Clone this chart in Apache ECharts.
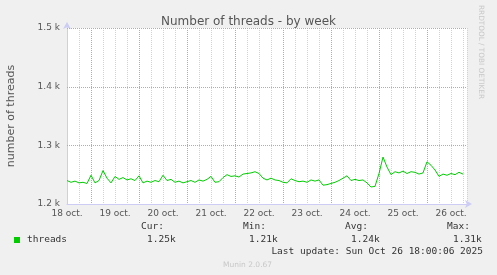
<!DOCTYPE html>
<html><head><meta charset="utf-8">
<script src="https://cdn.jsdelivr.net/npm/echarts@6/dist/echarts.min.js"></script>
<style>html,body{margin:0;padding:0;background:#f0f0f0;}#c{width:497px;height:275px;}</style>
</head><body><div id="c"></div>
<script>
// hours since 18 Oct 00:00, one sample every 2 h starting at 12:00
const startHour = 12;
const stepHours = 2;
const threads = [
 1240,1237,1239,1236,1237,1235,1249,1236,1240,1257,
 1244,1236,1247,1242,1245,1241,1243,1240,1248,1236,
 1239,1237,1240,1238,1249,1240,1242,1237,1239,1236,
 1238,1240,1237,1241,1239,1242,1247,1237,1238,1245,
 1250,1247,1248,1246,1251,1252,1253,1255,1252,1244,
 1241,1244,1241,1240,1237,1236,1243,1240,1238,1239,
 1237,1241,1239,1241,1232,1233,1235,1237,1240,1244,
 1248,1240,1242,1240,1241,1236,1229,1230,1252,1280,
 1263,1250,1255,1253,1256,1252,1255,1254,1251,1253,
 1272,1266,1258,1247,1251,1249,1252,1250,1254,1251
];
const dayMidnights = [24,48,72,96,120,144,168,192];
const yTicks = [1200,1300,1400,1500];
const yTickLabels = ['1.2 k','1.3 k','1.4 k','1.5 k'];
const legendNames = ['threads'];
const statHeads = ['Cur:','Min:','Avg:','Max:'];
const statValues = ['1.25k','1.21k','1.24k','1.31k'];
const lastUpdate = 'Last update: Sun Oct 26 18:00:06 2025';

const data = threads.map((v,i)=>[startHour + i*stepHours, v]);
const chart = echarts.init(document.getElementById('c'));
const mono = 'DejaVu Sans Mono';
const sans = 'DejaVu Sans';
const grey='#d2d2d2', red='#e69696';
const xMin=12, xMax=212, yMin=1200, yMax=1500;
const baseGraphics = [
    {type:'rect',left:14,top:237,shape:{width:6,height:6},style:{fill:'#00cc00'}},
    {type:'text',left:27,top:235,style:{text:legendNames[0],font:'9.5px '+mono,fill:'#333'}},
    ...statHeads.map((t,i)=>({type:'text',left:141+i*102,top:222,style:{text:t,font:'9.5px '+mono,fill:'#333'}})),
    ...statValues.map((t,i)=>({type:'text',left:147+i*102,top:235,style:{text:t,font:'9.5px '+mono,fill:'#333'}})),
    {type:'text',right:14,top:247,style:{text:lastUpdate,font:'9.5px '+mono,fill:'#333'}},
    {type:'text',left:223,top:261,style:{text:'Munin 2.0.67',font:'7.5px '+sans,fill:'#c8c8c8'}},
    {type:'text',x:484,y:5,rotation:-Math.PI/2,style:{text:'RRDTOOL / TOBI OETIKER',font:'7.3px '+sans,fill:'#c8c8c8'}}
];
chart.setOption({
  backgroundColor:'#f0f0f0',
  animation:false,
  title:{text:'Number of threads - by week',left:'center',top:11,
    textStyle:{fontFamily:sans,fontSize:12,fontWeight:'normal',color:'#555'}},
  grid:{left:67,top:28,width:400,height:176,show:true,backgroundColor:'#fff',borderWidth:0,
    containLabel:false,outerBoundsMode:'none'},
  xAxis:{type:'value',min:xMin,max:xMax,interval:6,
    axisLine:{show:true,lineStyle:{color:'#ccccf4',width:1},symbol:['none','arrow'],symbolSize:[6,7],symbolOffset:[0,5]},
    axisTick:{show:false},
    splitLine:{show:true,lineStyle:{color:grey,type:[1,1],width:1}},
    axisLabel:{showMinLabel:true,showMaxLabel:false,margin:5,fontFamily:sans,fontSize:9,color:'#555',
      formatter:v=>((v-12)%24===0 ? (18+Math.floor(v/24))+' oct.' : '')}
  },
  yAxis:{type:'value',min:yMin,max:yMax,interval:100,
    name:'number of threads',nameLocation:'middle',nameGap:50,
    nameTextStyle:{fontFamily:sans,fontSize:11,color:'#555'},
    axisLine:{show:true,lineStyle:{color:'#ccccf4',width:1},symbol:['none','arrow'],symbolSize:[6,7],symbolOffset:[0,6]},
    axisTick:{show:false},
    splitLine:{show:false},
    axisLabel:{margin:7,fontFamily:sans,fontSize:9,color:'#555',
      formatter:v=>yTickLabels[yTicks.indexOf(v)]}
  },
  series:[{name:legendNames[0],type:'line',data:data,symbol:'none',
    lineStyle:{color:'#00cc00',width:1},z:5}],
  graphic:baseGraphics
});
// red major grid lines placed through the chart's own scales
const px = (x,y)=>chart.convertToPixel({gridIndex:0},[x,y]);
const lines = [];
dayMidnights.forEach(h=>{
  const a=px(h,yMin), b=px(h,yMax), xx=Math.round(a[0])+0.5;
  lines.push({type:'line',z:2,silent:true,shape:{x1:xx,y1:b[1],x2:xx,y2:a[1]},style:{stroke:red,lineWidth:1,lineDash:[1,1]}});
});
yTicks.slice(1).forEach(v=>{
  const a=px(xMin,v), b=px(xMax,v), yy=Math.round(a[1])+0.5;
  lines.push({type:'line',z:2,silent:true,shape:{x1:a[0],y1:yy,x2:b[0],y2:yy},style:{stroke:red,lineWidth:1,lineDash:[1,1]}});
});
chart.setOption({graphic:baseGraphics.concat(lines)});
</script></body></html>
